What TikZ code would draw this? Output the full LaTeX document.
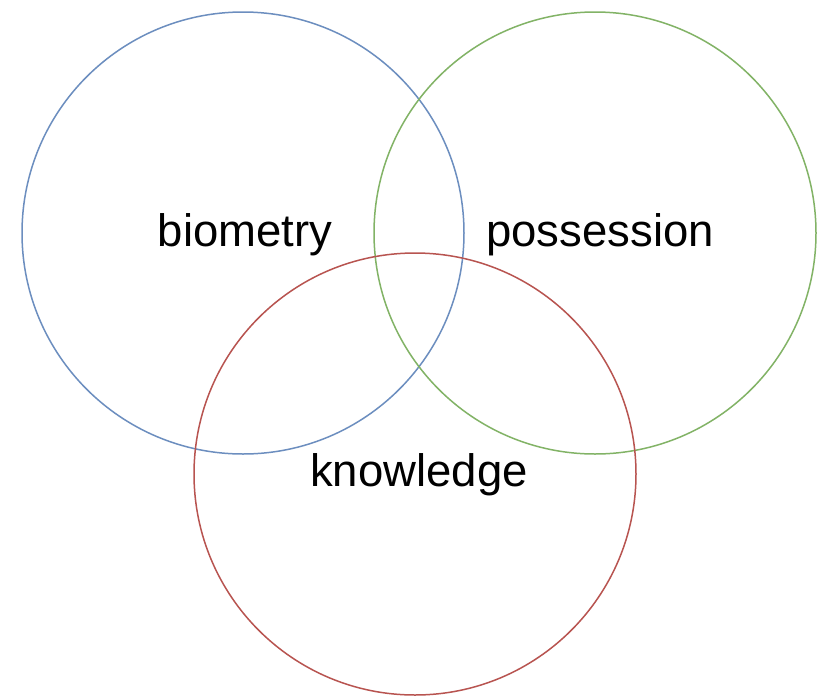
\documentclass[tikz,border=0pt]{standalone}
\usepackage{fontspec}
\setmainfont{Liberation Sans}
\definecolor{cblue}{HTML}{6C8EBF}
\definecolor{cgreen}{HTML}{82B366}
\definecolor{cred}{HTML}{B85450}
\begin{document}
\begin{tikzpicture}[x=1pt,y=-1pt,
  ring/.style={circle,draw,line width=1.5pt,minimum size=442pt,inner sep=0pt},
  lbl/.style={font=\fontsize{45.5}{50}\selectfont,text=black}]
\useasboundingbox (0,0) rectangle (822,697);
\fill[white] (0,0) rectangle (822,697);
\node[ring,draw=cblue] (bio) at (243,233) {};
\node[ring,draw=cgreen] (pos) at (595,233) {};
\node[ring,draw=cred] (kno) at (415,474) {};
\node[lbl] (tbio) at (245,235) {biometry};
\node[lbl] (tpos) at (600,235) {possession};
\node[lbl] (tkno) at (419,475) {knowledge};
\end{tikzpicture}
\end{document}
